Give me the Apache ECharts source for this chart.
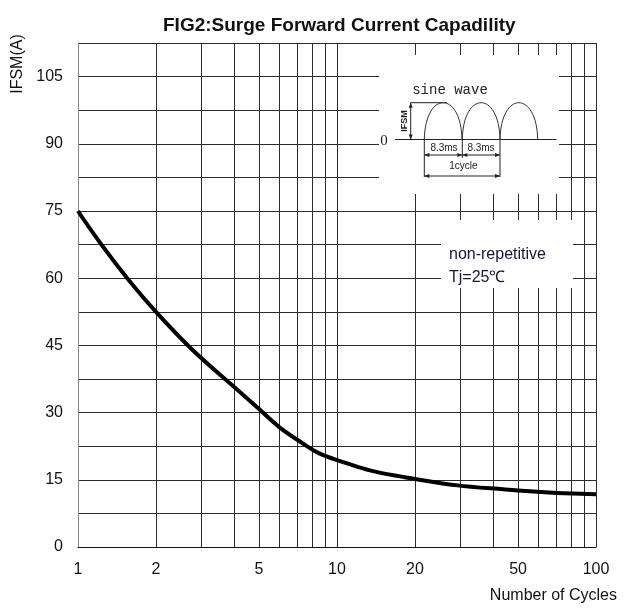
<!DOCTYPE html>
<html>
<head>
<meta charset="utf-8">
<title>FIG2 Surge Forward Current</title>
<script src="https://cdn.jsdelivr.net/npm/echarts@6/dist/echarts.min.js"></script>
<style>
  html, body { margin: 0; padding: 0; background: #fff; }
  #chart { width: 630px; height: 612px; }
</style>
</head>
<body>
<div id="chart"></div>
<script>
// curve, at the labelled grid lines
const cycles = [1, 2, 5, 7, 10, 20, 50, 100]
const ifsm = [75, 52.5, 30.8, 24.0, 19.4, 15.2, 12.6, 11.8]

// axes
const xGridValues = [1, 2, 3, 4, 5, 6, 7, 8, 9, 10, 20, 30, 40, 50, 60, 70, 80, 90, 100]
const xLabelValues = [1, 2, 5, 10, 20, 50, 100]
const yMax = 112.5
const yGridStep = 7.5
const yLabelStep = 15

const chart = echarts.init(document.getElementById('chart'))

const ink = '#222'
const gridColor = '#2b2b2b'
const sans = '"Liberation Sans", Arial, sans-serif'

// small helpers for the inset drawing
const seg = (x1, y1, x2, y2, w) => ({
  type: 'line', z: 60,
  shape: { x1, y1, x2, y2 },
  style: { stroke: ink, lineWidth: w || 1 }
})
const arrow = (pts) => ({
  type: 'polygon', z: 60,
  shape: { points: pts },
  style: { fill: ink }
})
const label = (text, x, y, font, extra) => ({
  type: 'text', z: 60, x, y,
  style: Object.assign({ text, font, fill: ink, align: 'center', verticalAlign: 'middle' }, extra || {})
})

// sine wave inset
const base = 139.5
const peak = 102.7
const humpStarts = [424.3, 462.3, 500]
const humpWidth = 37.7
const humps = humpStarts.map(x0 => ({
  type: 'bezierCurve', z: 60,
  shape: {
    x1: x0, y1: base, x2: x0 + humpWidth, y2: base,
    cpx1: x0 + 1, cpy1: base - (base - peak) * 4 / 3,
    cpx2: x0 + humpWidth - 1, cpy2: base - (base - peak) * 4 / 3
  },
  style: { stroke: '#333', lineWidth: 1, fill: null }
}))

const insetGraphics = [
  // white boxes over the grid
  { type: 'rect', z: 50, shape: { x: 379, y: 55, width: 180, height: 139 }, style: { fill: '#fff' } },
  { type: 'rect', z: 50, shape: { x: 441, y: 220, width: 132, height: 68 }, style: { fill: '#fff' } },

  label('sine wave', 450, 90.5, '14px "Liberation Mono", "DejaVu Sans Mono", monospace'),
  label('0', 384, 141, '15px "Liberation Serif", serif', { fill: '#1c1c50' }),
  seg(395, base, 556.5, base),
  seg(410.7, peak, 447, peak),
  seg(410.7, peak, 410.7, base),
  arrow([[410.7, peak], [408.7, peak + 5], [412.7, peak + 5]]),
  arrow([[410.7, base], [408.7, base - 5], [412.7, base - 5]]),
  { type: 'text', z: 60, x: 404.5, y: 121, rotation: Math.PI / 2,
    style: { text: 'IFSM', font: 'bold 9px ' + sans, fill: ink, align: 'center', verticalAlign: 'middle' } },
  ...humps,

  // dimension lines
  seg(424.3, base, 424.3, 177),
  seg(462.3, base, 462.3, 158),
  seg(500, base, 500, 177),
  seg(424.3, 155, 500, 155),
  arrow([[424.3, 155], [429.3, 153], [429.3, 157]]),
  arrow([[462.3, 155], [457.3, 153], [457.3, 157]]),
  arrow([[462.3, 155], [467.3, 153], [467.3, 157]]),
  arrow([[500, 155], [495, 153], [495, 157]]),
  label('8.3ms', 444, 148.5, '10px ' + sans),
  label('8.3ms', 481, 148.5, '10px ' + sans),
  seg(424.3, 176, 500, 176),
  arrow([[424.3, 176], [429.3, 174], [429.3, 178]]),
  arrow([[500, 176], [495, 174], [495, 178]]),
  label('1cycle', 463.3, 166.5, '10px ' + sans),

  // test conditions
  label('non-repetitive', 449, 255, '16px ' + sans, { align: 'left', fill: '#15153a' }),
  label('Tj=25\u2103', 449, 277.5, '16px ' + sans, { align: 'left', fill: '#15153a' }),

  // y axis title
  { type: 'text', z: 60, x: 18, y: 64, rotation: Math.PI / 2,
    style: { text: 'IFSM(A)', font: '16px ' + sans, fill: '#111', align: 'center', verticalAlign: 'middle' } }
]

const option = {
  animation: false,
  backgroundColor: '#fff',
  title: {
    text: 'FIG2:Surge Forward Current Capadility',
    left: 158,
    top: 11,
    textStyle: { fontFamily: sans, fontSize: 19, fontWeight: 'bold', color: '#111' }
  },
  grid: {
    left: 78,
    right: 34,
    top: 43,
    bottom: 65,
    containLabel: false,
    outerBoundsMode: 'none'
  },
  xAxis: {
    type: 'log',
    logBase: 10,
    min: 1,
    max: 100,
    name: 'Number of Cycles',
    nameLocation: 'end',
    nameGap: 21,
    nameTextStyle: {
      fontFamily: sans, fontSize: 16, color: '#111',
      align: 'right', verticalAlign: 'top', padding: [41, 0, 0, 0]
    },
    axisLine: { show: true, lineStyle: { color: '#111', width: 1 } },
    axisTick: { show: false, customValues: xGridValues },
    axisLabel: {
      customValues: xLabelValues,
      margin: 15,
      fontFamily: sans,
      fontSize: 16,
      color: '#111',
      formatter: v => String(Math.round(v))
    },
    splitLine: { show: true, lineStyle: { color: gridColor, width: 1 } },
    minorSplitLine: { show: false }
  },
  yAxis: {
    type: 'value',
    min: 0,
    max: yMax,
    interval: yGridStep,
    axisLine: { show: true, lineStyle: { color: '#888' } },
    axisTick: { show: false },
    axisLabel: {
      margin: 15,
      fontFamily: sans,
      fontSize: 16,
      color: '#111',
      formatter: v => (Math.abs(v % yLabelStep) < 1e-6 ? String(v) : '')
    },
    splitLine: { show: true, lineStyle: { color: gridColor, width: 1 } }
  },
  series: [
    {
      name: 'IFSM',
      type: 'line',
      data: cycles.map((c, i) => [c, ifsm[i]]),
      smooth: 0.5,
      symbol: 'none',
      lineStyle: { color: '#000', width: 4 },
      z: 5
    }
  ],
  graphic: insetGraphics
}

chart.setOption(option)
</script>
</body>
</html>
